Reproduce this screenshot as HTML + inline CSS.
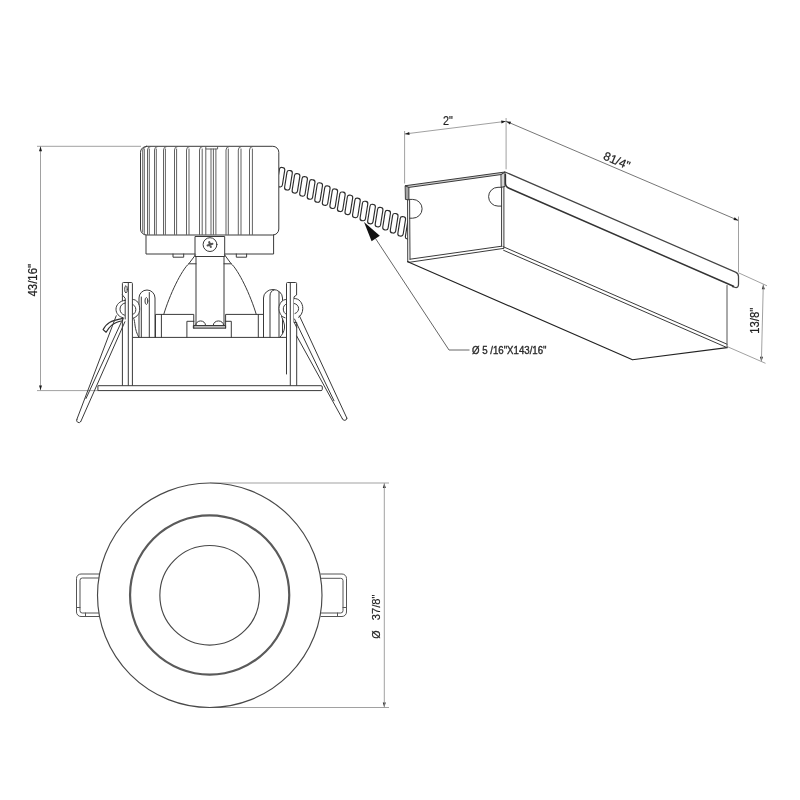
<!DOCTYPE html>
<html><head><meta charset="utf-8"><title>Dimensions</title>
<style>
html,body{margin:0;padding:0;background:#fff;}
body{width:800px;height:800px;overflow:hidden;font-family:"Liberation Sans",sans-serif;}
svg{display:block;filter:grayscale(1)}
.l{fill:none;stroke:#3a3a3a;stroke-width:1;stroke-linecap:round;stroke-linejoin:round}
.t{fill:none;stroke:#444;stroke-width:.8;stroke-linecap:round;stroke-linejoin:round}
.b{fill:none;stroke:#333;stroke-width:1.5;stroke-linecap:round;stroke-linejoin:round}
.w{fill:#fff;stroke:#3a3a3a;stroke-width:1;stroke-linejoin:round}
.d{fill:none;stroke:#969696;stroke-width:.9}
text{font-family:"Liberation Sans",sans-serif;fill:#222;stroke:#222;stroke-width:.2}
</style></head><body>
<svg width="800" height="800" viewBox="0 0 800 800">
<rect width="800" height="800" fill="#fff"/>

<g class="d">
<path d="M37 146.3H141 M40.5 146.3V390.5 M37 390.6H98"/>
<path d="M404.6 183.5V131 M506.1 169.3V118 M404.6 134L506.1 121.3"/>
<path d="M506.1 121.3L738.5 220.5" style="stroke:#666"/><path d="M738.5 216.5V272"/>
<path d="M40.50 146.60L42.00 151.20L39.00 151.20Z" fill="#1a1a1a" stroke="none"/>
<path d="M40.50 390.20L39.00 385.60L42.00 385.60Z" fill="#1a1a1a" stroke="none"/>
<path d="M384.30 483.30L385.80 487.90L382.80 487.90Z" fill="#1a1a1a" stroke="none"/>
<path d="M384.30 707.20L382.80 702.60L385.80 702.60Z" fill="#1a1a1a" stroke="none"/>
<path d="M763.30 284.60L764.80 289.20L761.80 289.20Z" fill="#1a1a1a" stroke="none"/>
<path d="M761.40 361.40L759.99 356.77L762.99 356.83Z" fill="#1a1a1a" stroke="none"/>
<path d="M404.80 134.00L409.18 131.94L409.55 134.92Z" fill="#1a1a1a" stroke="none"/>
<path d="M505.90 121.35L501.52 123.41L501.15 120.43Z" fill="#1a1a1a" stroke="none"/>
<path d="M506.30 121.40L511.12 121.83L509.94 124.59Z" fill="#1a1a1a" stroke="none"/>
<path d="M738.30 220.40L733.48 219.97L734.66 217.21Z" fill="#1a1a1a" stroke="none"/>
<path d="M738.5 272.8L767 285.8 M727 346.5L765.5 363.3 M763.3 284.3L761.4 361.5"/>
<path d="M210 483H389 M210 707.5H389 M384.3 483V707.5"/>
</g>
<path class="d" style="stroke:#555" d="M375.5 238.5L449 350H469.5"/>
<path d="M364 222L371.6 241.2L379.8 235.8Z" fill="#111"/>
<text transform="translate(37,296.5) rotate(-90)" font-size="12" textLength="32.5" lengthAdjust="spacingAndGlyphs">43/16"</text>
<text x="443" y="125" font-size="12" textLength="9.8" lengthAdjust="spacingAndGlyphs">2"</text>
<text transform="translate(602.5,159) rotate(23.2)" font-size="12" textLength="27.8" lengthAdjust="spacingAndGlyphs">81/4"</text>
<text transform="translate(758.6,333.8) rotate(-90)" font-size="12" textLength="26" lengthAdjust="spacingAndGlyphs">13/8"</text>
<text transform="translate(380.3,638.8) rotate(-90)" font-size="11.5" textLength="8.4" lengthAdjust="spacingAndGlyphs">Ø</text>
<text transform="translate(380.3,620.2) rotate(-90)" font-size="11.5" textLength="25.6" lengthAdjust="spacingAndGlyphs">37/8"</text>
<text x="472" y="354.2" font-size="10.4" textLength="74.5" lengthAdjust="spacingAndGlyphs" style="fill:#2a2a2a;stroke:#2a2a2a;stroke-width:.35">Ø 5 /16"X143/16"</text>
<clipPath id="cc"><rect x="279" y="150" width="128.8" height="110"/></clipPath>
<g class="w" clip-path="url(#cc)" style="stroke:#2e2e2e;stroke-width:1.15">
<rect x="-2.70" y="-9.80" width="5.4" height="19.6" rx="2.3" transform="translate(280.90,177.20) rotate(9)"/>
<rect x="-2.70" y="-9.80" width="5.4" height="19.6" rx="2.3" transform="translate(288.45,180.27) rotate(9)"/>
<rect x="-2.70" y="-9.80" width="5.4" height="19.6" rx="2.3" transform="translate(296.00,183.35) rotate(9)"/>
<rect x="-2.70" y="-9.80" width="5.4" height="19.6" rx="2.3" transform="translate(303.55,186.42) rotate(9)"/>
<rect x="-2.70" y="-9.80" width="5.4" height="19.6" rx="2.3" transform="translate(311.10,189.49) rotate(9)"/>
<rect x="-2.70" y="-9.80" width="5.4" height="19.6" rx="2.3" transform="translate(318.65,192.56) rotate(9)"/>
<rect x="-2.70" y="-9.80" width="5.4" height="19.6" rx="2.3" transform="translate(326.20,195.64) rotate(9)"/>
<rect x="-2.70" y="-9.80" width="5.4" height="19.6" rx="2.3" transform="translate(333.75,198.71) rotate(9)"/>
<rect x="-2.70" y="-9.80" width="5.4" height="19.6" rx="2.3" transform="translate(341.30,201.78) rotate(9)"/>
<rect x="-2.70" y="-9.80" width="5.4" height="19.6" rx="2.3" transform="translate(348.85,204.86) rotate(9)"/>
<rect x="-2.70" y="-9.80" width="5.4" height="19.6" rx="2.3" transform="translate(356.40,207.93) rotate(9)"/>
<rect x="-2.70" y="-9.80" width="5.4" height="19.6" rx="2.3" transform="translate(363.95,211.00) rotate(9)"/>
<rect x="-2.70" y="-9.80" width="5.4" height="19.6" rx="2.3" transform="translate(371.50,214.07) rotate(9)"/>
<rect x="-2.70" y="-9.80" width="5.4" height="19.6" rx="2.3" transform="translate(379.05,217.15) rotate(9)"/>
<rect x="-2.70" y="-9.80" width="5.4" height="19.6" rx="2.3" transform="translate(386.60,220.22) rotate(9)"/>
<rect x="-2.70" y="-9.80" width="5.4" height="19.6" rx="2.3" transform="translate(394.15,223.29) rotate(9)"/>
<rect x="-2.70" y="-9.80" width="5.4" height="19.6" rx="2.3" transform="translate(401.70,226.37) rotate(9)"/>
<rect x="-2.70" y="-9.80" width="5.4" height="19.6" rx="2.3" transform="translate(409.25,229.44) rotate(9)"/>
</g>
<g class="l">
<rect class="w" x="140.5" y="146.3" width="138.3" height="88.7" rx="6"/>
<path d="M147.5 234.5V150Q147.5 146.8 150.5 146.5 M149.3 234.5V149 M154.5 234.5V150Q154.5 146.8 157.5 146.5 M156.3 234.5V149 M163.5 234.5V150Q163.5 146.8 166.5 146.5 M165.4 234.5V149 M174.5 234.5V150Q174.5 146.8 177.5 146.5 M176.6 234.5V149 M186.5 234.5V150Q186.5 146.8 189.5 146.5 M189 234.5V149 M199.5 234.5V150Q199.5 146.8 202.5 146.5 M202.2 234.5V149 M226 234.5V150Q226 146.8 229 146.5 M228.3 234.5V149 M238.3 234.5V150Q238.3 146.8 241.3 146.5 M241 234.5V149 M249.5 234.5V150Q249.5 146.8 252.5 146.5 M252.4 234.5V149 M142.7 232V150Q142.7 148 145.5 147 M144.3 234.5V149 M205.8 146.5V149H217.6V146.5 M205.8 149V234.5 M211 149V234.5 M213.4 149V234.5 M215.9 149V234.5" style="stroke:#5a5a5a;stroke-width:.95"/>
<path d="M146 235V254H195.5 M224.5 254H273.6V235"/>
<path d="M173 254V257.2H183.7V254 M236.3 254V257.2H246.6V254"/>
<path class="w" d="M195.4 236.5H224.7V256.5H195.4Z"/>
<path d="M196 256.5V325.5 M224 256.5V325.5"/>
<circle cx="210" cy="244.6" r="6.9"/>
<path d="M207.6 245.4L212.4 243.8 M209.2 242.2L210.8 247" style="stroke-width:2.1;stroke:#555"/>
<path d="M195.4 255L189 263.5C181.5 270 169.5 295 163.75 314.4 M189 263.8H196"/>
<path d="M224.7 255L231 263.5C238.5 270 250.5 295 256.25 314.4 M231 263.8H224"/>
<path d="M155.5 337.4V314.4H193.75V321.3 M225.6 321.3V314.4H263.5V337.4 M161.4 314.4V337.4 M258.3 314.4V337.4"/>
<path d="M186.9 337.4V321.3H193.75 M225.6 321.3H231.3V337.4"/>
<rect x="193.75" y="325.5" width="31.85" height="2.7" fill="#bbb"/>
<path d="M195.6 325.5C195.6 319.3 205.6 319.3 205.6 325.5 M213.2 325.5C213.2 319.3 223.7 319.3 223.7 325.5"/>
<path d="M193.75 321.3V328.2 M225.6 321.3V328.2"/>
</g>
<g class="l">
<path class="w" d="M139 337.4V298A8 8 0 0 1 155 298V337.4"/>
<path d="M141.3 337.4V297 M149.3 337.4V292.5"/>
<ellipse cx="146.4" cy="301" rx="1.4" ry="3.4"/>
<path class="w" d="M263.5 337.4V298A9.5 8.5 0 0 1 282.5 298V337.4"/>
<path d="M270 337.4V296Q270 291 274 290 M279 337.4V292"/>
</g>
<g class="l">
<path class="w" d="M132.4 299.5C137 299 139.7 304 139.7 309C139.7 313.5 137 317 133.5 317.8C135.5 322 134 329 138.8 337.2L132.4 337.2Z" style="stroke:none"/>
<path d="M132.4 299.5C137 299 139.7 304 139.7 309C139.7 313.5 137 317 133.5 317.8C135.5 322 134 329 138.8 337.2"/>
<path d="M132.4 304.5C134.5 305 135.8 307 135.8 309.5C135.8 312 134.5 314 132.6 314.5"/>
<path class="w" d="M286.5 299.5C282 299 279 304 279 308.5C279 313 281.5 317 285 317.8L281.5 316.5C283 320 285 324 284.5 328C284 332 282 335 280 337.2L286.5 337.2Z" style="stroke:none"/>
<path d="M286.5 299.5C282 299 279 304 279 308.5C279 313 281.5 317 285 317.8M281.5 316.5C283 320 285 324 284.5 328C284 332 282 335 280 337.2"/>
<path d="M286.5 304C284.3 304.5 283.3 306.8 283.3 309C283.3 311.5 284.5 313.8 286.5 314.3"/>
</g>
<g class="l">
<path d="M132.5 337.4H286.5"/>
<path class="w" d="M122.4 386V283.5A1 1 0 0 1 123.4 282.5H131.4A1 1 0 0 1 132.4 283.5V386"/>
<path d="M128.3 283V386"/>
<ellipse cx="126" cy="289.3" rx="1.3" ry="3.6"/>
<path class="w" d="M286.5 386V283.5A1 1 0 0 1 287.5 282.5H295.5A1 1 0 0 1 296.6 283.5V386" style="stroke:none"/>
<path d="M286.5 374V283.5A1 1 0 0 1 287.5 282.5H295.5A1 1 0 0 1 296.6 283.5V295L294 296.8V322.5H296.7V385.7 M290.3 283V385.7"/>
<path class="w" d="M98.3 385.7H321A1.3 1.3 0 0 1 322.3 387V389.3A1.3 1.3 0 0 1 321 390.6H98.3Z"/>
</g>
<g class="l">
<path class="w" d="M122.4 295.2L125.2 298.3V300.5C119 301 116 305 116 309.2C116 313.5 119 317 123 317.8L125.2 319V295Z" style="stroke:none"/>
<path d="M122.4 295L125.2 298.3V300.3 M125.2 300.3C119.5 300.8 116 305 116 309.2C116 313.5 119 317 123.2 317.8"/>
<path d="M125.2 303C122 303.5 120 306 120 309.2C120 312 121.8 314.5 124.5 315.2"/>
<path d="M125.2 300.3V319"/>
<path class="w" style="stroke-width:1.15;stroke:#2e2e2e" d="M103.1 329.6C105.5 325.5 108 323.3 109.5 322.5C112 321 116 319.8 123.2 318.4L122.4 320.8C119 321.5 114.5 323 111.75 325.1C110 326.5 108 329 106.1 332.3Z"/>
<path d="M116.25 315.75L76.9 419.3 M121.5 321.75L86 398.5 M124.9 321.75L80.8 421.5"/>
<path d="M76.9 419.3A2.2 2.2 0 0 0 80.8 421.5"/>
<path class="w" d="M294 298.6C299 298 302.8 303 302.8 308.5C302.8 313 300.5 316 298.5 317.3L294 322Z" style="stroke:none"/>
<path d="M294.3 298.6C299 298 302.8 303 302.8 308.5C302.8 313 300.5 316 298.5 317.3"/>
<path d="M294.3 303.5C296.8 304 298.6 306 298.6 308.5C298.6 311 297 312.8 295 313.5"/>
<path d="M299.5 316L346.9 418.2 M294.5 319L334 400.75 M296.7 336L342.4 418.75 M294.3 322.5L296.7 327.5"/>
<path d="M342.4 418.75A2.3 2.3 0 0 0 346.9 418.2"/>
</g>
<g class="l">
<path d="M405.5 185.7L505 172L501.4 174.5L407.6 187.6Z" fill="#ccc" style="fill:#ccc"/>
<path d="M405.5 185.9L408.9 187.4V199.9L405.8 199.5Z" style="fill:#a5a5a5"/>
<path d="M407.6 199.8L407.75 261.75 M409.6 199.6L410 259.3"/>
<path d="M501.3 174.4L505 172.2V186.5L501.5 187.3Z" style="fill:#d5d5d5"/>
<path d="M501.6 187.3V246.2 M503.9 186.8V248"/>
<path d="M410 259.2L501.6 246.2 M407.75 261.75L410 262.2L503.6 248.4"/>
<path d="M408.9 199.4H412.7A9.4 9.4 0 0 1 412.7 218.2H409.6"/>
<path d="M501.6 187.3H498A9.4 9.4 0 0 0 498 206.1H501.6"/>
<path d="M505 172L735.5 272.1Q738.5 273.4 738.5 276.5V284.3Q738.5 287.8 735.5 287.5L732.5 286.6" style="stroke-width:1.25;stroke:#444"/>
<path class="b" d="M505.4 174.5V183C505.4 186 506.5 187.2 509 188.3L733.5 286.3"/>
<path d="M503 246.6L727 344.2 M503.6 250.3L727 347.6"/>
<path d="M727 347.6L632.5 359.8L407.75 261.75" style="stroke:#222;stroke-width:1.15"/><path d="M727 285.5V347.6" style="stroke:#555"/>
</g>
<g class="l">
<path d="M99 574H81A4.5 4.5 0 0 0 76.5 578.5V612A4.5 4.5 0 0 0 81 616.5H99 M99 578H82.3A2.3 2.3 0 0 0 80 580.3V610.7A2.3 2.3 0 0 0 82.3 613H99 M76.5 607.5H80 M85.5 613V616.5" style="stroke:#555"/>
<path d="M321 574H342A4.5 4.5 0 0 1 346.5 578.5V612A4.5 4.5 0 0 1 342 616.5H321 M321 578.3H340.7A2.3 2.3 0 0 1 343 580.6V610.7A2.3 2.3 0 0 1 340.7 613H321 M343 607.5H346.5 M337.5 613V616.5" style="stroke:#555"/>
<circle class="w" cx="209.75" cy="595.25" r="112.25" style="stroke:#484848;stroke-width:1.15"/>
<circle cx="209.65" cy="595" r="79.6" style="stroke:#5a5a5a;stroke-width:2.2"/>
<circle cx="209.65" cy="595.25" r="49.8" style="stroke:#484848;stroke-width:1.15"/>
</g>
</svg></body></html>
